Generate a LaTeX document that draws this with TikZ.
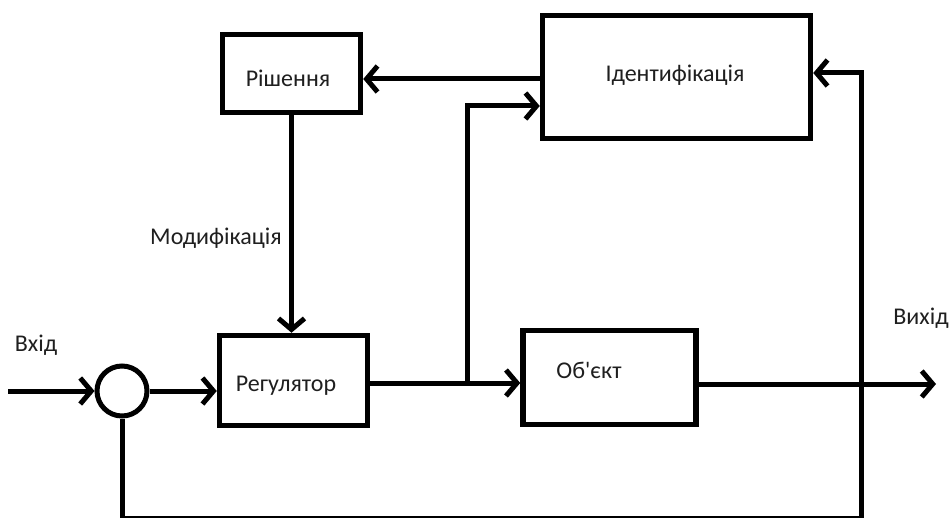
\documentclass[tikz,border=0pt]{standalone}
\usepackage{fontspec}
\setmainfont{Carlito}[Ligatures=TeXOff]
\usetikzlibrary{arrows.meta}

\tikzset{
  blockbox/.style={draw=black, line width=5.5pt, inner sep=0pt, fill=white},
  sumcircle/.style={draw=black, line width=5pt, circle, inner sep=0pt, minimum size=50pt},
  wire/.style={draw=black, line width=5pt},
  arr/.style={wire, -{Straight Barb[length=11pt,width=26pt]}},
  lbl/.style={inner sep=0pt, text=black!88, font=\fontsize{24}{28}\selectfont}
}

\begin{document}
\begin{tikzpicture}[x=1pt, y=-1pt]
  \useasboundingbox (0,0) rectangle (952,518);

  % blocks
  \node[blockbox, minimum width=138pt, minimum height=78pt] (rish)  at (291.5,73.5) {};
  \node[blockbox, minimum width=268pt, minimum height=123pt] (ident) at (676.5,77) {};
  \node[blockbox, minimum width=148pt, minimum height=90pt] (reg)   at (293.5,380.5) {};
  \node[blockbox, minimum width=173pt, minimum height=94pt] (obj)   at (609.5,377.5) {};
  \node[sumcircle] (sum) at (122,391) {};

  % texts
  \node[lbl] (rishT)  at (288,78)  {Рішення};
  \node[lbl] (identT) at (675,75)  {Ідентифікація};
  \node[lbl] (modT)   at (216,238) {Модифікація};
  \node[lbl] (inT)    at (36,345)  {Вхід};
  \node[lbl] (regT)   at (286,386) {Регулятор};
  \node[lbl] (objT)   at (589,370) {Об'єкт};
  \node[lbl] (outT)   at (921,318) {Вихід};

  % helper points
  \coordinate (in)   at (8,391);
  \coordinate (out)  at (936,384);
  \coordinate (j)    at (467,383);
  \coordinate (bot)  at (861,518);
  \coordinate (idin) at ([yshift=-29pt]ident.west);
  \coordinate (idfb) at ([yshift=4pt]ident.east);
  \coordinate (rin)  at ([yshift=-5.5pt]rish.east);

  % signal paths
  \draw[arr] (in) -- (sum.west);
  \draw[arr] (sum.east) -- (sum.east -| reg.west);
  \draw[arr] (rish.south) -- (rish.south |- reg.north);
  \draw[arr] (rin -| ident.west) -- (rin);
  \draw[wire] (reg.east |- j) -- (j);
  \draw[arr] (j) -- (j -| obj.west);
  \draw[arr] (j) |- (idin);
  \draw[arr] (obj.east |- out) -- (out);
  \draw[arr] (sum.south) |- (bot) |- (idfb);
\end{tikzpicture}
\end{document}
